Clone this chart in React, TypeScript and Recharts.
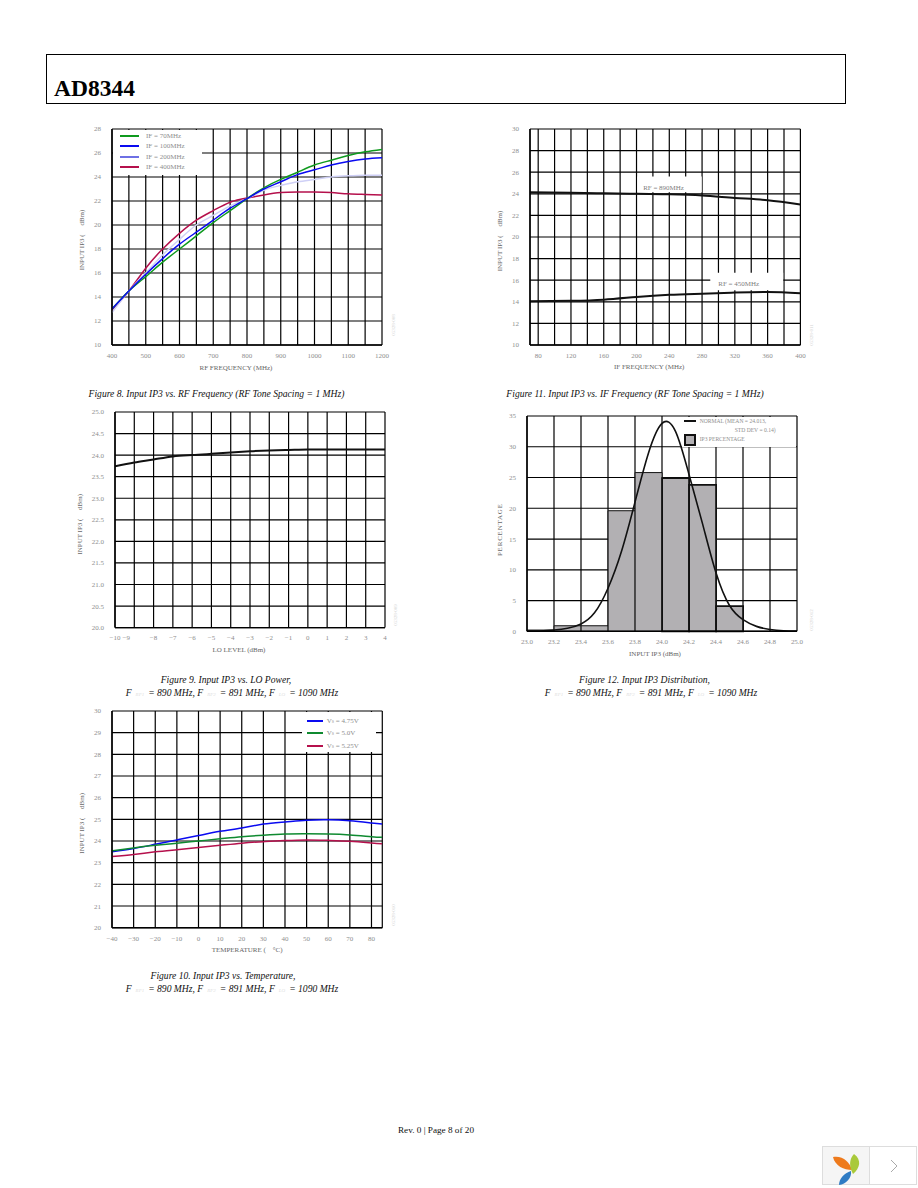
import {
  LineChart,
  ComposedChart,
  Line,
  Bar,
  Rectangle,
  XAxis,
  YAxis,
  CartesianGrid,
  Legend,
  ReferenceArea,
} from 'recharts'

const RF_FREQ = [400, 450, 500, 550, 600, 650, 700, 750, 800, 850, 900, 950, 1000, 1050, 1100, 1150, 1200]
const IF_70 = [13.0, 14.5, 15.7, 16.9, 18.0, 19.1, 20.2, 21.2, 22.2, 23.1, 23.8, 24.4, 25.0, 25.4, 25.8, 26.1, 26.3]
const IF_100 = [13.0, 14.5, 15.9, 17.2, 18.4, 19.4, 20.4, 21.4, 22.2, 23.0, 23.6, 24.2, 24.6, 25.0, 25.3, 25.5, 25.6]
const IF_200 = [12.7, 14.5, 16.0, 17.5, 18.8, 20.0, 20.8, 21.6, 22.2, 22.9, 23.3, 23.6, 23.8, 24.0, 24.1, 24.15, 24.15]
const IF_400 = [12.9, 14.5, 16.4, 18.0, 19.3, 20.4, 21.2, 21.9, 22.25, 22.5, 22.7, 22.75, 22.75, 22.7, 22.6, 22.55, 22.5]
const RF_X_TICKS = [400, 500, 600, 700, 800, 900, 1000, 1100, 1200]
const RF_X_GRID = [400, 450, 500, 550, 600, 650, 700, 750, 800, 850, 900, 950, 1000, 1050, 1100, 1150, 1200]
const IP3_Y_TICKS = [10, 12, 14, 16, 18, 20, 22, 24, 26, 28]

const IF_FREQ = [70, 120, 160, 200, 240, 280, 320, 360, 400]
const RF_890 = [24.15, 24.1, 24.05, 24.0, 23.95, 23.85, 23.62, 23.4, 23.0]
const RF_450 = [14.05, 14.1, 14.2, 14.45, 14.65, 14.75, 14.85, 14.9, 14.8]
const IF_X_TICKS = [80, 120, 160, 200, 240, 280, 320, 360, 400]
const IF_X_GRID = [70, 80, 100, 120, 140, 160, 180, 200, 220, 240, 260, 280, 300, 320, 340, 360, 380, 400]
const IF_Y_TICKS = [10, 12, 14, 16, 18, 20, 22, 24, 26, 28, 30]

const LO_LEVEL = [-10, -9, -8, -7, -6, -5, -4, -3, -2, -1, 0, 1, 2, 3, 4]
const LO_IP3 = [23.74, 23.83, 23.9, 23.97, 24.0, 24.03, 24.06, 24.09, 24.11, 24.12, 24.13, 24.13, 24.13, 24.13, 24.13]
const LO_Y_TICKS = [20, 20.5, 21, 21.5, 22, 22.5, 23, 23.5, 24, 24.5, 25]

const TEMP = [-40, -30, -20, -10, 0, 10, 20, 30, 40, 50, 60, 70, 80, 85]
const VS_475 = [23.5, 23.65, 23.85, 24.05, 24.25, 24.45, 24.6, 24.78, 24.88, 24.96, 24.98, 24.93, 24.83, 24.78]
const VS_500 = [23.55, 23.68, 23.8, 23.9, 24.0, 24.1, 24.2, 24.27, 24.32, 24.33, 24.32, 24.28, 24.2, 24.17]
const VS_525 = [23.28, 23.38, 23.5, 23.6, 23.7, 23.8, 23.9, 23.97, 24.02, 24.05, 24.03, 23.99, 23.91, 23.87]
const TEMP_X_TICKS = [-40, -30, -20, -10, 0, 10, 20, 30, 40, 50, 60, 70, 80]
const TEMP_X_GRID = [-40, -30, -20, -10, 0, 10, 20, 30, 40, 50, 60, 70, 80, 85]
const TEMP_Y_TICKS = [20, 21, 22, 23, 24, 25, 26, 27, 28, 29, 30]

const BIN_MID = [23.1, 23.3, 23.5, 23.7, 23.9, 24.1, 24.3, 24.5]
const BIN_PCT = [0.2, 0.9, 0.9, 19.6, 25.8, 24.9, 23.8, 4.1]
const NORMAL_X = [23.0, 23.1, 23.2, 23.3, 23.4, 23.5, 23.6, 23.7, 23.8, 23.9, 24.0, 24.1, 24.2, 24.3, 24.4, 24.5, 24.6, 24.7, 24.8, 24.9, 25.0]
const NORMAL_Y = [0.05, 0.05, 0.2, 0.5, 1.2, 3.0, 7.0, 13.0, 21.0, 29.0, 33.8, 32.5, 25.5, 17.5, 9.5, 4.2, 1.9, 0.8, 0.3, 0.1, 0.05]
const HIST_X_TICKS = [23.0, 23.2, 23.4, 23.6, 23.8, 24.0, 24.2, 24.4, 24.6, 24.8, 25.0]
const HIST_Y_TICKS = [0, 5, 10, 15, 20, 25, 30, 35]

const IF_COLORS = ['#0f9a1e', '#0a0af0', '#cfd0f6', '#b5104c']
const IF_LEGEND = ['IF = 70MHz', 'IF = 100MHz', 'IF = 200MHz', 'IF = 400MHz']
const IF_LEGEND_COLORS = ['#0f9a1e', '#0a0af0', '#6e70e4', '#b5104c']
const VS_COLORS = ['#0a0af0', '#0f8a30', '#b5104c']
const VS_LEGEND = ['4.75V', '5.0V', '5.25V']

const SERIF = '"Liberation Serif", serif'
const TICK_STYLE = { fontSize: 7, fill: '#8e8e8e', fontFamily: SERIF }
const TITLE_STYLE = { fontSize: 7, fill: '#666', fontFamily: SERIF }
const AXIS_LINE = { stroke: '#000', strokeWidth: 1.4 }
const GRID_STROKE = '#000'
const GRID_WIDTH = 1.2

// chart box sits this far from the plot area so page positions can be read straight off the scan
const BOX_LEFT = 40
const BOX_TOP = 10
const BOX_RIGHT = 10
const BOX_BOTTOM = 32
const HIST_PLOT_WIDTH = 270
const BIN_WIDTH = HIST_PLOT_WIDTH / 10

const rfRows = RF_FREQ.map((x, i) => ({ x, a: IF_70[i], b: IF_100[i], c: IF_200[i], d: IF_400[i] }))
const ifRows = IF_FREQ.map((x, i) => ({ x, a: RF_890[i], b: RF_450[i] }))
const loRows = LO_LEVEL.map((x, i) => ({ x, a: LO_IP3[i] }))
const tempRows = TEMP.map((x, i) => ({ x, a: VS_475[i], b: VS_500[i], c: VS_525[i] }))
const binRows = BIN_MID.map((x, i) => ({ x, pct: BIN_PCT[i] }))
const normalRows = NORMAL_X.map((x, i) => ({ x, normal: NORMAL_Y[i] }))

function boxStyle(left: number, top: number): React.CSSProperties {
  return { position: 'absolute', left: left - BOX_LEFT, top: top - BOX_TOP }
}

function chartProps(w: number, h: number) {
  return {
    width: w + BOX_LEFT + BOX_RIGHT,
    height: h + BOX_TOP + BOX_BOTTOM,
    margin: { top: BOX_TOP, right: BOX_RIGHT, left: 0, bottom: 0 },
  }
}

function xAxisProps(domain: number[], ticks: number[], label: string, dx = 0) {
  return {
    dataKey: 'x',
    type: 'number' as const,
    domain,
    ticks,
    interval: 0 as const,
    height: BOX_BOTTOM,
    tick: TICK_STYLE,
    tickLine: false,
    tickMargin: 2,
    axisLine: AXIS_LINE,
    allowDataOverflow: true,
    label: { value: label, position: 'insideBottom' as const, offset: 7.5, dx, style: TITLE_STYLE },
  }
}

function yAxisProps(domain: number[], ticks: number[], label: string, dy = 0, dx = -10, style: object = TITLE_STYLE) {
  return {
    type: 'number' as const,
    domain,
    ticks,
    interval: 0 as const,
    width: BOX_LEFT,
    tick: TICK_STYLE,
    tickLine: false,
    tickMargin: 5,
    axisLine: AXIS_LINE,
    label: { value: label, angle: -90, position: 'center' as const, dx, dy, style },
  }
}

function LegendBox(props: { box: number[]; fontSize?: number; children: React.ReactNode }) {
  const [w, h] = props.box
  return (
    <div style={{ position: 'relative', width: w, height: h, background: '#fff', fontFamily: SERIF, fontSize: props.fontSize || 7, color: '#8e8e8e' }}>
      {props.children}
    </div>
  )
}

// offsets are from the plot area's top-left corner
function legendWrap(left: number, top: number) {
  return { left: left + BOX_LEFT, top: top + BOX_TOP, width: 'auto', margin: 0 }
}

function LegendRow(props: { color: string; lineX: number; lineW: number; textX: number; y: number; children: React.ReactNode }) {
  return (
    <>
      <div style={{ position: 'absolute', left: props.lineX, top: props.y, width: props.lineW, height: 2, background: props.color }} />
      <div style={{ position: 'absolute', left: props.textX, top: props.y - 3, lineHeight: '8px', whiteSpace: 'nowrap' }}>{props.children}</div>
    </>
  )
}

function Caption(props: { x: number; y: number; children: React.ReactNode }) {
  return (
    <div
      style={{
        position: 'absolute',
        left: props.x,
        top: props.y,
        transform: 'translate(-50%, -50%)',
        fontFamily: SERIF,
        fontStyle: 'italic',
        fontSize: 9.6,
        color: '#111',
        whiteSpace: 'nowrap',
      }}
    >
      {props.children}
    </div>
  )
}

function Freqs() {
  const sub = { color: '#ddd', fontSize: 5, padding: '0 4px' }
  return (
    <>
      F<span style={sub}>RF1</span>= 890 MHz, F<span style={sub}>RF2</span>= 891 MHz, F<span style={sub}>LO</span>= 1090 MHz
    </>
  )
}

function DocNo(props: { x: number; y: number; text: string }) {
  return (
    <div
      style={{
        position: 'absolute',
        left: props.x,
        top: props.y,
        transform: 'translate(-50%, -50%) rotate(-90deg)',
        fontFamily: SERIF,
        fontSize: 5,
        color: '#d4d4d4',
        whiteSpace: 'nowrap',
      }}
    >
      {props.text}
    </div>
  )
}

function LoTick(props: any) {
  const { x, y, payload } = props
  // the scan prints -9 squeezed up against -10
  const shift = payload.value === -9 ? -8 : 0
  return (
    <text x={x + shift} y={y + 4} textAnchor="middle" {...TICK_STYLE}>
      {String(payload.value).replace('-', '\u2212')}
    </text>
  )
}

function BinBar(props: any) {
  // the bins touch each other; the band from the library is narrower because the curve is sampled finer
  const cx = props.x + props.width / 2
  const heavy = props.payload.x >= 24
  return <Rectangle {...props} x={cx - BIN_WIDTH / 2} width={BIN_WIDTH} strokeWidth={heavy ? 1.8 : 1} />
}

function RfFrequencyChart() {
  const box = [89, 45]
  return (
    <div style={boxStyle(112, 129)}>
      <LineChart {...chartProps(270, 216)} data={rfRows}>
        <CartesianGrid stroke={GRID_STROKE} strokeWidth={GRID_WIDTH} verticalValues={RF_X_GRID} horizontalValues={IP3_Y_TICKS} />
        <XAxis {...xAxisProps([400, 1200], RF_X_TICKS, 'RF FREQUENCY (MHz)', -11)} />
        <YAxis {...yAxisProps([10, 28], IP3_Y_TICKS, 'INPUT IP3 (\u00a0\u00a0\u00a0\u00a0\u00a0dBm)', 3)} />
        <Line dataKey="d" type="natural" stroke={IF_COLORS[3]} strokeWidth={1.5} dot={false} isAnimationActive={false} />
        <Line dataKey="c" type="natural" stroke={IF_COLORS[2]} strokeWidth={1.5} dot={false} isAnimationActive={false} />
        <Line dataKey="a" type="natural" stroke={IF_COLORS[0]} strokeWidth={1.5} dot={false} isAnimationActive={false} />
        <Line dataKey="b" type="natural" stroke={IF_COLORS[1]} strokeWidth={1.5} dot={false} isAnimationActive={false} />
        <Legend
          layout="horizontal"
          align="center"
          verticalAlign="middle"
          wrapperStyle={legendWrap(1, 1)}
          content={() => (
            <LegendBox box={box}>
              {IF_LEGEND.map((t, i) => (
                <LegendRow key={t} color={IF_LEGEND_COLORS[i]} lineX={7} lineW={19} textX={33} y={5 + i * 10.4}>
                  {t}
                </LegendRow>
              ))}
            </LegendBox>
          )}
        />
      </LineChart>
    </div>
  )
}

function IfFrequencyChart() {
  const labelStyle = { fontSize: 7, fill: '#808080', fontFamily: SERIF }
  return (
    <div style={boxStyle(530.3, 129)}>
      <LineChart {...chartProps(270.4, 216)} data={ifRows}>
        <CartesianGrid stroke={GRID_STROKE} strokeWidth={GRID_WIDTH} verticalValues={IF_X_GRID} horizontalValues={IF_Y_TICKS} />
        <XAxis {...xAxisProps([70, 400], IF_X_TICKS, 'IF FREQUENCY (MHz)', -16)} />
        <YAxis {...yAxisProps([10, 30], IF_Y_TICKS, 'INPUT IP3 (\u00a0\u00a0\u00a0\u00a0\u00a0dBm)', 4)} />
        <ReferenceArea
          x1={201}
          x2={279.6}
          y1={24.15}
          y2={25.6}
          fill="#fff"
          fillOpacity={1}
          stroke="none"
          label={{ value: 'RF = 890MHz', position: 'center', dx: -6, dy: 3, style: labelStyle }}
        />
        <ReferenceArea
          x1={290}
          x2={379}
          y1={15.07}
          y2={16.68}
          fill="#fff"
          fillOpacity={1}
          stroke="none"
          label={{ value: 'RF = 450MHz', position: 'center', dx: -8, dy: 2, style: labelStyle }}
        />
        <Line dataKey="a" type="natural" stroke="#111" strokeWidth={2} dot={false} isAnimationActive={false} />
        <Line dataKey="b" type="natural" stroke="#111" strokeWidth={2} dot={false} isAnimationActive={false} />
      </LineChart>
    </div>
  )
}

function LoPowerChart() {
  return (
    <div style={boxStyle(115.3, 411.7)}>
      <LineChart {...chartProps(270, 215.6)} data={loRows}>
        <CartesianGrid stroke={GRID_STROKE} strokeWidth={GRID_WIDTH} verticalValues={LO_LEVEL} horizontalValues={LO_Y_TICKS} />
        <XAxis {...xAxisProps([-10, 4], LO_LEVEL, 'LO LEVEL (dBm)', -11)} tick={<LoTick />} />
        <YAxis {...yAxisProps([20, 25], LO_Y_TICKS, 'INPUT IP3 (\u00a0\u00a0\u00a0\u00a0\u00a0dBm)', 4.5, -15)} tickFormatter={(v: number) => v.toFixed(1)} />
        <Line dataKey="a" type="natural" stroke="#111" strokeWidth={2} dot={false} isAnimationActive={false} />
      </LineChart>
    </div>
  )
}

function TemperatureChart() {
  const box = [74.5, 40.6]
  return (
    <div style={boxStyle(112, 711)}>
      <LineChart {...chartProps(270.3, 216.7)} data={tempRows}>
        <CartesianGrid stroke={GRID_STROKE} strokeWidth={GRID_WIDTH} verticalValues={TEMP_X_GRID} horizontalValues={TEMP_Y_TICKS} />
        <XAxis {...xAxisProps([-40, 85], TEMP_X_TICKS, 'TEMPERATURE (\u00a0\u00a0\u00a0\u00a0\u00b0C)', 0)} tickFormatter={(v: number) => String(v).replace('-', '\u2212')} />
        <YAxis {...yAxisProps([20, 30], TEMP_Y_TICKS, 'INPUT IP3 (\u00a0\u00a0\u00a0\u00a0\u00a0dBm)', 4)} />
        <Line dataKey="a" type="natural" stroke={VS_COLORS[0]} strokeWidth={1.5} dot={false} isAnimationActive={false} />
        <Line dataKey="b" type="natural" stroke={VS_COLORS[1]} strokeWidth={1.5} dot={false} isAnimationActive={false} />
        <Line dataKey="c" type="natural" stroke={VS_COLORS[2]} strokeWidth={1.5} dot={false} isAnimationActive={false} />
        <Legend
          layout="horizontal"
          align="center"
          verticalAlign="middle"
          wrapperStyle={legendWrap(189.7, 0.7)}
          content={() => (
            <LegendBox box={box}>
              {VS_LEGEND.map((t, i) => (
                <LegendRow key={t} color={VS_COLORS[i]} lineX={5} lineW={16} textX={25} y={8.5 + i * 12.3}>
                  V<sub style={{ fontSize: 4, verticalAlign: 'baseline' }}>S</sub> = {t}
                </LegendRow>
              ))}
            </LegendBox>
          )}
        />
      </LineChart>
    </div>
  )
}

function DistributionChart() {
  const box = [114.5, 30]
  return (
    <div style={boxStyle(527.3, 415.7)}>
      <ComposedChart {...chartProps(HIST_PLOT_WIDTH, 215.3)} data={binRows}>
        <CartesianGrid stroke={GRID_STROKE} strokeWidth={GRID_WIDTH} verticalValues={HIST_X_TICKS} horizontalValues={HIST_Y_TICKS} />
        <XAxis {...xAxisProps([23, 25], HIST_X_TICKS, 'INPUT IP3 (dBm)', -7)} tickFormatter={(v: number) => v.toFixed(1)} />
        <YAxis {...yAxisProps([0, 35], HIST_Y_TICKS, 'PERCENTAGE', 6, -7, { ...TITLE_STYLE, letterSpacing: 0.8 })} />
        <Bar dataKey="pct" fill="#b2b0b3" stroke="#111" shape={<BinBar />} isAnimationActive={false} />
        <Line data={normalRows} dataKey="normal" type="natural" stroke="#111" strokeWidth={1.6} dot={false} isAnimationActive={false} />
        <Legend
          layout="horizontal"
          align="center"
          verticalAlign="middle"
          wrapperStyle={legendWrap(154.4, 1)}
          content={() => (
            <LegendBox box={box} fontSize={5.6}>
              <LegendRow color="#111" lineX={2} lineW={12} textX={18} y={3}>
                NORMAL (MEAN = 24.013,
              </LegendRow>
              <div style={{ position: 'absolute', left: 53, top: 9, lineHeight: '8px', whiteSpace: 'nowrap' }}>STD DEV = 0.14)</div>
              <div style={{ position: 'absolute', left: 2, top: 17, width: 8, height: 8, background: '#b2b0b3', border: '2px solid #111' }} />
              <div style={{ position: 'absolute', left: 18, top: 18, lineHeight: '8px', whiteSpace: 'nowrap' }}>IP3 PERCENTAGE</div>
            </LegendBox>
          )}
        />
      </ComposedChart>
    </div>
  )
}

function Widget() {
  return (
    <div style={{ position: 'absolute', left: 822, top: 1146, width: 95, height: 39, border: '1px solid #ddd', boxSizing: 'border-box', background: '#fff' }}>
      <div style={{ position: 'absolute', left: 0, top: 0, width: 46, height: 37, background: '#f5f5f5', borderRight: '1px solid #ddd' }} />
      <svg width={30} height={32} viewBox="0 0 30 32" style={{ position: 'absolute', left: 9, top: 7 }}>
        <path d="M1 3 C10 1 18 8 20 16 C12 16 3 12 1 3 Z" fill="#ee7a1c" />
        <path d="M22 0 C30 6 28 14 21 20 C17 13 17 5 22 0 Z" fill="#a9c93a" />
        <path d="M19 17 C20 24 14 30 7 31 C7 25 12 19 19 17 Z" fill="#2f7cc4" />
      </svg>
      <svg width={10} height={14} viewBox="0 0 10 14" style={{ position: 'absolute', left: 66, top: 12 }}>
        <path d="M2 1 L8 7 L2 13" fill="none" stroke="#aaa" strokeWidth={1} />
      </svg>
    </div>
  )
}

export default function App() {
  return (
    <div style={{ position: 'absolute', left: 0, top: 0, width: 918, height: 1188, background: '#fff', overflow: 'hidden' }}>
      <div style={{ position: 'absolute', left: 45.5, top: 54, width: 800, height: 50, border: '1px solid #000', boxSizing: 'border-box' }} />
      <div style={{ position: 'absolute', left: 54, top: 75, fontFamily: SERIF, fontWeight: 'bold', fontSize: 23.5, lineHeight: '26px', color: '#000' }}>AD8344</div>

      <RfFrequencyChart />
      <IfFrequencyChart />
      <LoPowerChart />
      <DistributionChart />
      <TemperatureChart />

      <DocNo x={393} y={325} text="05328-008" />
      <DocNo x={811} y={335} text="05328-011" />
      <DocNo x={395} y={615} text="05328-009" />
      <DocNo x={811} y={620} text="05328-012" />
      <DocNo x={393} y={915} text="05328-010" />

      <Caption x={216.5} y={392.7}>Figure 8. Input IP3 vs. RF Frequency (RF Tone Spacing = 1 MHz)</Caption>
      <Caption x={635} y={392.7}>Figure 11. Input IP3 vs. IF Frequency (RF Tone Spacing = 1 MHz)</Caption>
      <Caption x={226} y={679}>Figure 9. Input IP3 vs. LO Power,</Caption>
      <Caption x={232} y={691.7}><Freqs /></Caption>
      <Caption x={644.5} y={679}>Figure 12. Input IP3 Distribution,</Caption>
      <Caption x={651} y={692}><Freqs /></Caption>
      <Caption x={223} y={975}>Figure 10. Input IP3 vs. Temperature,</Caption>
      <Caption x={232} y={988}><Freqs /></Caption>

      <div style={{ position: 'absolute', left: 436, top: 1130, transform: 'translate(-50%, -50%)', fontFamily: SERIF, fontSize: 9.2, color: '#111', whiteSpace: 'nowrap' }}>
        Rev. 0 | Page 8 of 20
      </div>
      <Widget />
    </div>
  )
}
